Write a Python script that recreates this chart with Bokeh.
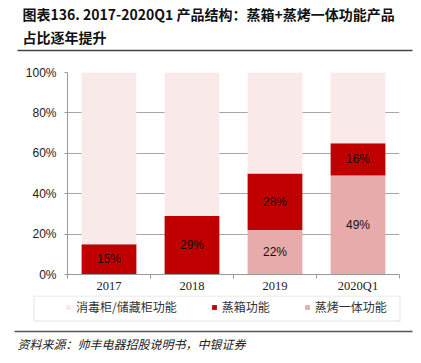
from bokeh.plotting import figure
from bokeh.models import (ColumnDataSource, Range1d, FixedTicker, Label, BoxAnnotation,
                          Legend, LegendItem, LabelSet)
from bokeh.core.properties import value
from bokeh.layouts import column
from bokeh.embed import file_html
from bokeh.resources import INLINE

# ---- data ----
categories = ["2017", "2018", "2019", "2020Q1"]
steam_oven = [0.0, 0.0, 0.22, 0.49]       # 蒸烤一体功能
steamer = [0.15, 0.29, 0.28, 0.16]        # 蒸箱功能
cabinet = [0.85, 0.71, 0.50, 0.35]        # 消毒柜/储藏柜功能
series_names = ["消毒柜/储藏柜功能", "蒸箱功能", "蒸烤一体功能"]
y_ticks = [0, 0.2, 0.4, 0.6, 0.8, 1.0]
y_tick_labels = ["0%", "20%", "40%", "60%", "80%", "100%"]
title_lines = ["图表136.  2017-2020Q1 产品结构：蒸箱+蒸烤一体功能产品", "占比逐年提升"]
source_text = "资料来源：帅丰电器招股说明书，中银证券"

c_cabinet = "#F9E9E9"
c_steamer = "#C00000"
c_oven = "#E8ABAB"
colors = [c_cabinet, c_steamer, c_oven]

CJK = "Noto Sans CJK SC"
W = 413


def blank(height):
    f = figure(width=W, height=height, output_backend="svg", toolbar_location=None, title=None,
               x_range=Range1d(0, W), y_range=Range1d(0, height),
               min_border=0, x_axis_location=None, y_axis_location=None)
    f.grid.visible = False
    f.outline_line_color = None
    return f


def text_label(fig, x, y, text, **kw):
    fig.add_layout(Label(x=x, y=y, x_units="screen", text=text, text_baseline="middle", **kw))


def hbox(fig, left, right, top, bottom, **kw):
    fig.add_layout(BoxAnnotation(left=left, right=right, top=top, bottom=bottom,
                                 left_units="screen", right_units="screen", **kw))


# ---- header ----
HEADER_H = 56
header = blank(HEADER_H)
text_label(header, 22, HEADER_H - 13, title_lines[0], text_font=CJK, text_font_style="bold",
           text_font_size="14px", text_color="#111111")
text_label(header, 22, HEADER_H - 36, title_lines[1], text_font=CJK, text_font_style="bold",
           text_font_size="14px", text_color="#111111")
hbox(header, 17, 412, HEADER_H - 49.3, HEADER_H - 50.8, fill_color="#444444", fill_alpha=1,
     line_color=None)

# ---- chart ----
xs = list(range(len(categories)))
src = ColumnDataSource(dict(x=xs, oven=steam_oven, steamer=steamer, cabinet=cabinet))

CHART_H = 239
p = figure(width=W, height=CHART_H, output_backend="svg", toolbar_location=None,
           x_range=Range1d(-0.5, len(categories) - 0.5), y_range=Range1d(0, 1),
           min_border_left=67, min_border_right=14, min_border_top=16, min_border_bottom=21)
p.outline_line_color = None

r = p.vbar_stack(["oven", "steamer", "cabinet"], x="x", width=0.66, source=src,
                 color=[c_oven, c_steamer, c_cabinet], line_color=None)

lbl_x, lbl_y, lbl_t = [], [], []
for i in range(len(categories)):
    if steam_oven[i] > 0:
        lbl_x.append(xs[i]); lbl_y.append(steam_oven[i] / 2); lbl_t.append(f"{round(steam_oven[i]*100)}%")
    if steamer[i] > 0:
        lbl_x.append(xs[i]); lbl_y.append(steam_oven[i] + steamer[i] / 2); lbl_t.append(f"{round(steamer[i]*100)}%")
lsrc = ColumnDataSource(dict(x=lbl_x, y=lbl_y, t=lbl_t))
p.add_layout(LabelSet(x="x", y="y", text="t", source=lsrc, text_align="center",
                      text_baseline="middle", text_font_size=value("12px"),
                      text_font=value("Liberation Sans"), text_color="#111111"))

xa = p.xaxis[0]
xa.ticker = FixedTicker(ticks=xs, minor_ticks=[i - 0.5 for i in range(len(categories) + 1)])
xa.major_label_overrides = {i: c for i, c in enumerate(categories)}
xa.major_tick_out = 0
xa.major_tick_in = 0
xa.minor_tick_out = 4
xa.minor_tick_in = 0
xa.minor_tick_line_color = "#999999"
xa.axis_line_color = "#999999"
xa.major_label_text_font = "Liberation Serif"
xa.major_label_text_font_size = "12.5px"
xa.major_label_text_color = "#222222"
xa.major_label_standoff = 0

ya = p.yaxis[0]
ya.ticker = FixedTicker(ticks=y_ticks, minor_ticks=[])
ya.major_label_overrides = {t: l for t, l in zip(y_ticks, y_tick_labels)}
ya.major_tick_out = 3
ya.major_tick_in = 0
ya.major_tick_line_color = "#999999"
ya.axis_line_color = "#999999"
ya.major_label_text_font = "Liberation Sans"
ya.major_label_text_font_size = "12px"
ya.major_label_text_color = "#222222"
ya.major_label_standoff = 8

p.xgrid.grid_line_color = None
p.ygrid.grid_line_color = "#A6A6A6"
p.ygrid.grid_line_width = 1
p.ygrid.ticker = FixedTicker(ticks=y_ticks)

# ---- footer (legend + source) ----
FOOT_TOP = HEADER_H + CHART_H
FOOT_H = 363 - FOOT_TOP


def fy(page_y):
    return FOOT_H - (page_y - FOOT_TOP)


footer = blank(FOOT_H)
hbox(footer, 33.5, 399.5, fy(FOOT_TOP + 0.5), fy(320.5), fill_alpha=0,
     line_color="#A0A0A0", line_width=1)
items = []
for name, col in zip(series_names, colors):
    rr = footer.vbar(x=[-1000], top=[-1000], bottom=[-1001], width=1, color=col, line_color=None)
    items.append(LegendItem(label=name, renderers=[rr]))
legend = Legend(items=items, location=(65, 363 - 307 - 8), orientation="horizontal", padding=0,
                margin=0, spacing=34, glyph_width=6, glyph_height=6, label_standoff=5,
                label_text_font=CJK, label_text_font_size="12px", label_text_color="#333333",
                border_line_color=None, background_fill_alpha=0)
footer.add_layout(legend, "center")
hbox(footer, 14, 412, fy(330.3), fy(331.8), fill_color="#555555", fill_alpha=1, line_color=None)
text_label(footer, 17, fy(343), source_text, text_font=CJK, text_font_style="italic",
           text_font_size="12px", text_color="#222222")

layout = column(column(header, width=W, height=HEADER_H, sizing_mode="fixed"),
                p,
                column(footer, width=W, height=FOOT_H, sizing_mode="fixed"),
                spacing=0)
open("out.html", "w").write(file_html(layout, INLINE))
